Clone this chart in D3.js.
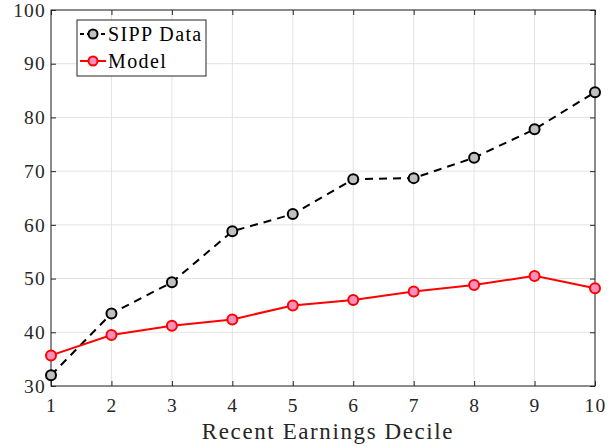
<!DOCTYPE html>
<html><head><meta charset="utf-8">
<script src="https://cdn.jsdelivr.net/npm/d3@7"></script>
<style>body{margin:0;background:#fff}svg{display:block}</style>
</head><body>
<script>
const deciles = [1,2,3,4,5,6,7,8,9,10];
const sippData = [32.0,43.5,49.3,58.8,62.0,68.5,68.7,72.5,77.8,84.7];
const modelData = [35.7,39.5,41.2,42.4,45.0,46.0,47.6,48.8,50.5,48.2];
const yTicks = [30,40,50,60,70,80,90,100];
const seriesNames = ["SIPP Data","Model"];

const W=615,H=447, L=51, R=595, T=10, B=386;
const svg=d3.select("body").append("svg").attr("width",W).attr("height",H);
const x=d3.scaleLinear().domain([1,10]).range([L,R]);
const y=d3.scaleLinear().domain([30,100]).range([B,T]);
const font="'Liberation Serif','Times New Roman',serif";

// grid
const g=svg.append("g");
g.selectAll(".gx").data(deciles).enter().append("line")
 .attr("x1",d=>x(d)).attr("x2",d=>x(d)).attr("y1",T).attr("y2",B)
 .attr("stroke","#e3e3e3").attr("stroke-width",1);
g.selectAll(".gy").data(yTicks).enter().append("line")
 .attr("y1",d=>y(d)).attr("y2",d=>y(d)).attr("x1",L).attr("x2",R)
 .attr("stroke","#e3e3e3").attr("stroke-width",1);

// axes
const ax=svg.append("g").attr("transform",`translate(0,${B})`)
 .call(d3.axisBottom(x).tickValues(deciles).tickSize(-5).tickPadding(12).tickFormat(d3.format("d")));
const ay=svg.append("g").attr("transform",`translate(${L},0)`)
 .call(d3.axisLeft(y).tickValues(yTicks).tickSize(-5).tickPadding(5));
const axT=svg.append("g").attr("transform",`translate(0,${T})`)
 .call(d3.axisTop(x).tickValues(deciles).tickSize(-5).tickFormat(""));
const ayR=svg.append("g").attr("transform",`translate(${R},0)`)
 .call(d3.axisRight(y).tickValues(yTicks).tickSize(-5).tickFormat(""));
[ax,ay,axT,ayR].forEach(a=>{
  a.select(".domain").remove();
  a.selectAll(".tick line").attr("stroke","#262626");
  a.selectAll("text").attr("font-family",font).attr("font-size",19.5)
   .attr("letter-spacing","1.2px").attr("fill","#262626");
});
svg.append("rect").attr("x",L).attr("y",T).attr("width",R-L).attr("height",B-T)
 .attr("fill","none").attr("stroke","#262626").attr("stroke-width",1);

// lines
const line=d3.line().x((d,i)=>x(deciles[i])).y(d=>y(d));
svg.append("path").datum(sippData).attr("d",line).attr("fill","none")
 .attr("stroke","#000").attr("stroke-width",2).attr("stroke-dasharray","8,6");
svg.append("path").datum(modelData).attr("d",line).attr("fill","none")
 .attr("stroke","#ff0000").attr("stroke-width",2);
svg.selectAll(".ps").data(sippData).enter().append("circle")
 .attr("cx",(d,i)=>x(deciles[i])).attr("cy",d=>y(d)).attr("r",5)
 .attr("fill","#c0c0c0").attr("stroke","#000").attr("stroke-width",2);
svg.selectAll(".pm").data(modelData).enter().append("circle")
 .attr("cx",(d,i)=>x(deciles[i])).attr("cy",d=>y(d)).attr("r",5)
 .attr("fill","#f98fbb").attr("stroke","#ff0000").attr("stroke-width",2);

// x label
svg.append("text").attr("x",(L+R)/2+5).attr("y",439).attr("text-anchor","middle")
 .attr("font-family",font).attr("font-size",23).attr("letter-spacing","1.6px")
 .attr("fill","#262626").text("Recent Earnings Decile");

// legend
const lg=svg.append("g");
lg.append("rect").attr("x",77).attr("y",20).attr("width",129).attr("height",56)
 .attr("fill","#fff").attr("stroke","#262626").attr("stroke-width",1);
const styles=[{s:"#000",f:"#c0c0c0",dash:"4,3"},{s:"#ff0000",f:"#f98fbb",dash:null}];
seriesNames.forEach((n,i)=>{
  const cy=34+i*27;
  lg.append("line").attr("x1",80).attr("x2",106).attr("y1",cy).attr("y2",cy)
   .attr("stroke",styles[i].s).attr("stroke-width",2).attr("stroke-dasharray",styles[i].dash);
  lg.append("circle").attr("cx",93).attr("cy",cy).attr("r",4.5)
   .attr("fill",styles[i].f).attr("stroke",styles[i].s).attr("stroke-width",2);
  lg.append("text").attr("x",108).attr("y",cy+7).attr("font-family",font).attr("font-size",20)
   .attr("letter-spacing","1.4px").attr("fill","#000").text(n);
});
</script>
</body></html>
